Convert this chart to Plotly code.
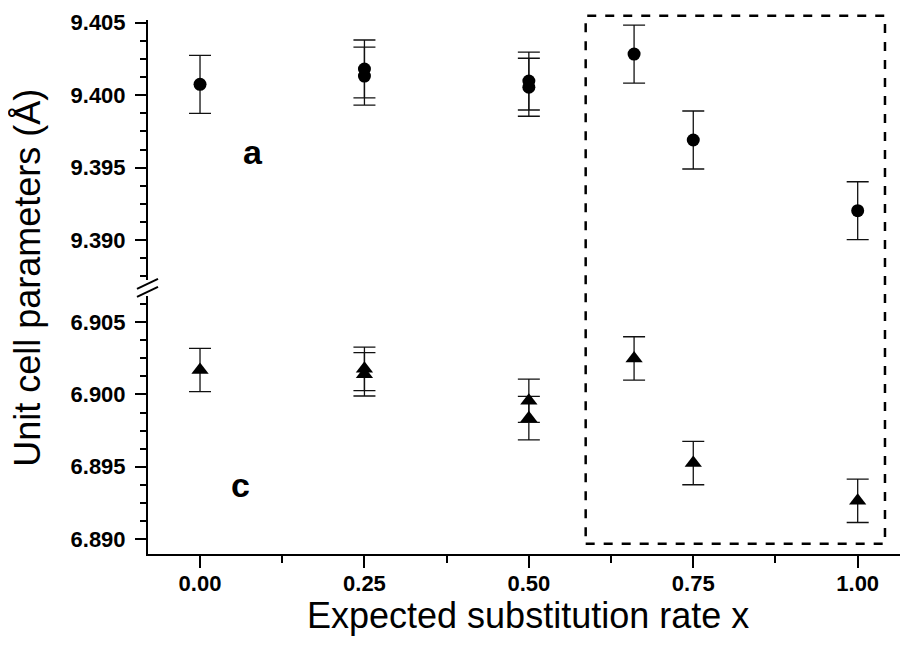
import plotly.graph_objects as go

# ---- data ----
x_vals = [0.0, 0.25, 0.25, 0.50, 0.50, 0.66, 0.75, 1.00]
a_vals = [9.40075, 9.40181, 9.40132, 9.40098, 9.40055, 9.40284, 9.39691, 9.39203]
a_err = [0.002, 0.002, 0.002, 0.002, 0.002, 0.002, 0.002, 0.002]
c_vals = [6.90169, 6.90177, 6.90139, 6.89956, 6.89836, 6.90249, 6.89525, 6.89264]
c_err = [0.0015, 0.0015, 0.0015, 0.0015, 0.0015, 0.0015, 0.0015, 0.0015]
x_ticks = [0.0, 0.25, 0.50, 0.75, 1.00]
x_ticklabels = ["0.00", "0.25", "0.50", "0.75", "1.00"]
a_ticks = [9.390, 9.395, 9.400, 9.405]
a_ticklabels = ["9.390", "9.395", "9.400", "9.405"]
c_ticks = [6.890, 6.895, 6.900, 6.905]
c_ticklabels = ["6.890", "6.895", "6.900", "6.905"]

FONT = "Liberation Sans, Arial, sans-serif"
X_RANGE = [-0.0791, 1.0765]

fig = go.Figure()
fig.add_trace(go.Scatter(
    x=x_vals, y=a_vals, xaxis="x", yaxis="y2", mode="markers",
    marker=dict(symbol="circle", size=13, color="black"),
    error_y=dict(type="data", array=a_err, visible=True, color="#111",
                 thickness=1.3, width=11),
    showlegend=False))
fig.add_trace(go.Scatter(
    x=x_vals, y=c_vals, xaxis="x", yaxis="y", mode="markers",
    marker=dict(symbol="triangle-up", size=15, color="black"),
    error_y=dict(type="data", array=c_err, visible=True, color="#111",
                 thickness=1.3, width=11),
    showlegend=False))

tickfont = dict(family=FONT, size=22, color="black", weight="bold")

fig.update_layout(
    width=900, height=640,
    margin=dict(l=140, r=0, t=12, b=93.7),
    plot_bgcolor="white", paper_bgcolor="white",
    xaxis=dict(range=X_RANGE, tickvals=x_ticks, showticklabels=False,
               showline=True, linecolor="black", linewidth=2, mirror=False,
               ticks="outside", ticklen=12, tickwidth=2, tickcolor="black",
               minor=dict(dtick=0.125, tick0=0, ticks="outside", ticklen=7,
                          tickwidth=2, tickcolor="black", showgrid=False),
               showgrid=False, zeroline=False, anchor="y"),
    xaxis2=dict(range=X_RANGE, tickvals=x_ticks, ticktext=x_ticklabels,
                overlaying="x", side="bottom", anchor="y",
                showline=False, ticks="", showgrid=False, zeroline=False,
                tickfont=tickfont, ticklabelstandoff=14),
    yaxis=dict(domain=[0, 0.4834], range=[6.88896, 6.90682],
               tickvals=c_ticks, ticktext=c_ticklabels,
               showline=True, linecolor="black", linewidth=2,
               ticks="outside", ticklen=11, tickwidth=2, tickcolor="black",
               minor=dict(dtick=0.00125, tick0=6.89, ticks="outside", ticklen=6,
                          tickwidth=2, tickcolor="black", showgrid=False),
               showgrid=False, zeroline=False, tickfont=tickfont, anchor="x",
               ticklabelstandoff=5),
    yaxis2=dict(domain=[0.5134, 1.0], range=[9.38726, 9.40519],
                tickvals=a_ticks, ticktext=a_ticklabels,
                showline=True, linecolor="black", linewidth=2,
                ticks="outside", ticklen=11, tickwidth=2, tickcolor="black",
                minor=dict(dtick=0.00125, tick0=9.39, ticks="outside", ticklen=6,
                           tickwidth=2, tickcolor="black", showgrid=False),
                showgrid=False, zeroline=False, tickfont=tickfont, anchor="x",
                ticklabelstandoff=5),
)

# invisible trace to activate the label axis
fig.add_trace(go.Scatter(x=[x_vals[0]], y=[c_vals[0]], xaxis="x2", yaxis="y",
                         mode="markers", marker=dict(opacity=0),
                         hoverinfo="skip", showlegend=False))

# dashed highlight box
fig.add_shape(type="rect", xref="x", yref="paper",
              x0=0.5864, x1=1.0415, y0=0.0193, y1=1.008,
              line=dict(color="black", width=2.5, dash="dash"),
              fillcolor="rgba(0,0,0,0)", layer="above")

# axis break marks
def px2paper(px, py):
    return (px - 148) / 760.0, (554.3 - py) / 534.3

for (p0, p1) in [((137, 289), (158, 279)), ((137, 297), (158, 287))]:
    x0, y0 = px2paper(*p0)
    x1, y1 = px2paper(*p1)
    fig.add_shape(type="line", xref="paper", yref="paper",
                  x0=x0, y0=y0, x1=x1, y1=y1,
                  line=dict(color="black", width=2))

# panel labels
fig.add_annotation(x=0.0798, y=9.39608, xref="x", yref="y2", text="<b>a</b>",
                   showarrow=False, font=dict(family=FONT, size=34, color="black"))
fig.add_annotation(x=0.0623, y=6.89373, xref="x", yref="y", text="<b>c</b>",
                   showarrow=False, font=dict(family=FONT, size=34, color="black"))

# axis titles
fig.add_annotation(x=-0.158, y=0.517, xref="paper", yref="paper",
                   text="Unit cell parameters (Å)", textangle=-90, showarrow=False,
                   xanchor="center", yanchor="middle",
                   font=dict(family=FONT, size=36, color="black"))
fig.add_annotation(x=0.5, y=-0.1155, xref="paper", yref="paper",
                   text="Expected substitution rate x", showarrow=False,
                   xanchor="center", yanchor="middle",
                   font=dict(family=FONT, size=36, color="black"))

fig.write_html("out.html")
